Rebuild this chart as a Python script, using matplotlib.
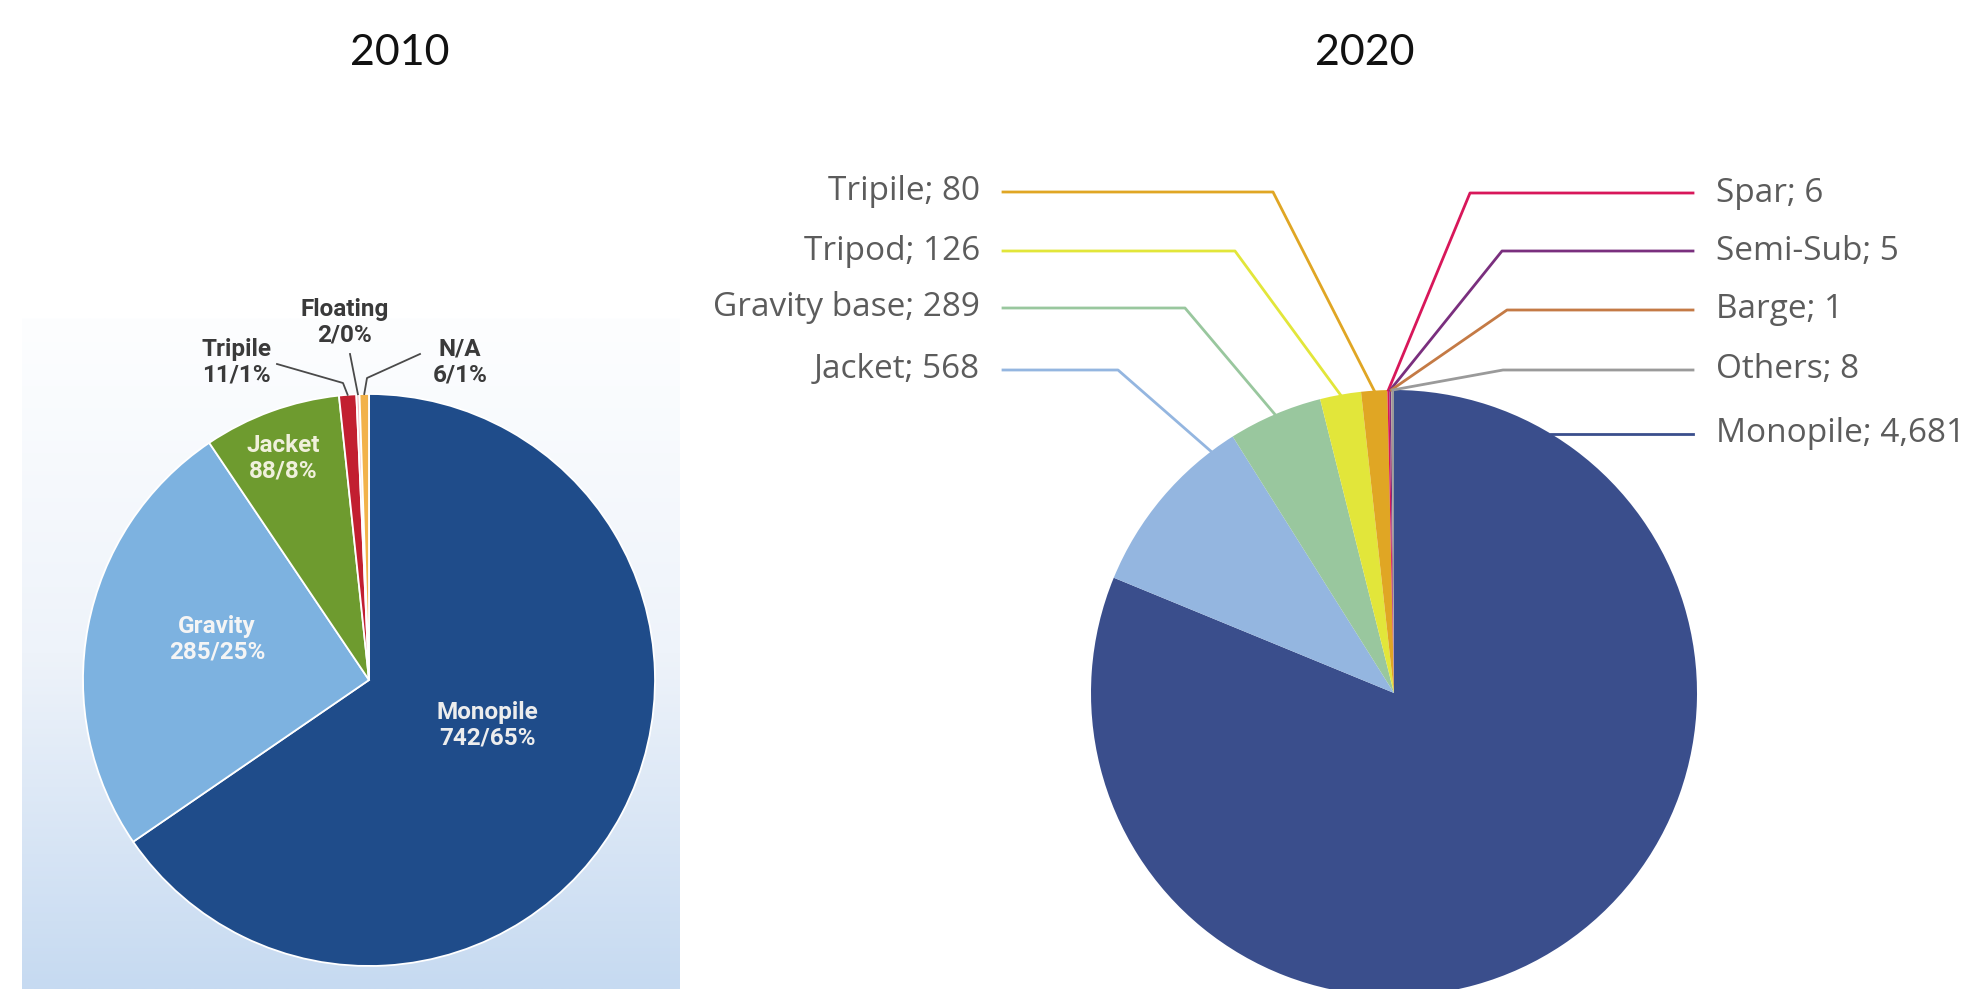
import numpy as np
import matplotlib
matplotlib.use("Agg")
import matplotlib.pyplot as plt
from matplotlib.colors import LinearSegmentedColormap

# ---------------- data ----------------
years = ["2010", "2020"]

cats_2010 = ["Monopile", "Gravity", "Jacket", "Tripile", "Floating", "N/A"]
vals_2010 = [742, 285, 88, 11, 2, 6]
pcts_2010 = [65, 25, 8, 1, 0, 1]

cats_2020 = ["Monopile", "Jacket", "Gravity base", "Tripod", "Tripile",
             "Spar", "Semi-Sub", "Barge", "Others"]
vals_2020 = [4681, 568, 289, 126, 80, 6, 5, 1, 8]

# ---------------- style / layout ----------------
colors_2010 = ["#1F4C8A", "#7DB2E0", "#6E9B2F", "#C21F30", "#F3C3C6", "#F2B24A"]
colors_2020 = ["#3A4E8C", "#94B6E0", "#99C79E", "#E2E63A", "#E0A624",
               "#D8175A", "#7A2F7E", "#C47A45", "#9A9A9A"]

W, H, DPI = 1972, 989, 100
Y = lambda y: H - y  # pixel rows measured from the top

C1, R1 = (369, 680), 286
C2, R2 = (1394, 693), 303

inner_pos_2010 = {"Monopile": (487, 725), "Gravity": (217, 639), "Jacket": (283, 458)}
inner_col_2010 = {"Monopile": "#EDEDED", "Gravity": "#F5F5F5", "Jacket": "#F0F0DC"}
outer_pos_2010 = {"Tripile": (236, 362), "Floating": (345, 322), "N/A": (460, 362)}
outer_path_2010 = {"Tripile": [(277, 364), (343, 383)],
                   "Floating": [(350, 354)],
                   "N/A": [(420, 354), (367, 378)]}

left_side = ["Tripile", "Tripod", "Gravity base", "Jacket"]
label_y_2020 = {"Tripile": 192, "Tripod": 251, "Gravity base": 308, "Jacket": 370,
                "Spar": 193, "Semi-Sub": 251, "Barge": 310, "Others": 370,
                "Monopile": 434}
bend_x_2020 = {"Tripile": 1273, "Tripod": 1235, "Gravity base": 1185, "Jacket": 1118,
               "Spar": 1470, "Semi-Sub": 1502, "Barge": 1507, "Others": 1503}
attach_frac = {"Jacket": 0.14}
LEFT_LINE_X, LEFT_TEXT_X = 1003, 980
RIGHT_LINE_X, RIGHT_TEXT_X = 1693, 1716

LBL_FONT = dict(fontsize=17.5, fontweight="bold", family="Roboto", linespacing=1.12)
R_FONT = dict(fontsize=24, color="#5C5C5C", family="Open Sans")

fig = plt.figure(figsize=(W / DPI, H / DPI), dpi=DPI)
ax = fig.add_axes([0, 0, 1, 1])

# gradient background behind the 2010 pie
grad = np.linspace(0, 1, 256).reshape(-1, 1)
bg = LinearSegmentedColormap.from_list("bg", ["#FDFEFF", "#EEF3FA", "#C6DAF1"])
ax.imshow(grad, extent=[22, 680, Y(989), Y(318)], cmap=bg, aspect="auto",
          origin="upper", zorder=0, interpolation="bilinear")

# ---------------- 2010 pie ----------------
w1, _ = ax.pie(vals_2010, colors=colors_2010, startangle=90, counterclock=False,
               center=(C1[0], Y(C1[1])), radius=R1, frame=True,
               wedgeprops=dict(edgecolor="white", linewidth=1.3))
for w in w1:
    w.set_zorder(2)

def edge_point(wedge, center, r, frac=0.5):
    ang = np.deg2rad(wedge.theta1 + frac * (wedge.theta2 - wedge.theta1))
    return center[0] + r * np.cos(ang), Y(center[1]) + r * np.sin(ang)

for cat, v, p, w in zip(cats_2010, vals_2010, pcts_2010, w1):
    txt = f"{cat}\n{v}/{p}%"
    if cat in inner_pos_2010:
        x, y = inner_pos_2010[cat]
        ax.text(x, Y(y), txt, ha="center", va="center",
                color=inner_col_2010[cat], zorder=5, **LBL_FONT)
    else:
        x, y = outer_pos_2010[cat]
        ax.text(x, Y(y), txt, ha="center", va="center",
                color="#3A3A3A", zorder=5, **LBL_FONT)
        ex, ey = edge_point(w, C1, R1)
        pts = [(px, Y(py)) for px, py in outer_path_2010[cat]] + [(ex, ey)]
        xs, ys = zip(*pts)
        ax.plot(xs, ys, color="#4A4A4A", lw=1.3, zorder=4)

# ---------------- 2020 pie ----------------
w2, _ = ax.pie(vals_2020, colors=colors_2020, startangle=90, counterclock=False,
               center=(C2[0], Y(C2[1])), radius=R2, frame=True,
               wedgeprops=dict(linewidth=0))
for w in w2:
    w.set_zorder(2)

for cat, v, col, w in zip(cats_2020, vals_2020, colors_2020, w2):
    label = f"{cat}; {v:,}"
    ly = Y(label_y_2020[cat])
    if cat == "Monopile":
        dy = ly - Y(C2[1])
        sx = C2[0] + np.sqrt(R2 ** 2 - dy ** 2)
        ax.plot([sx, RIGHT_LINE_X], [ly, ly], color=col, lw=2, zorder=4)
        ax.text(RIGHT_TEXT_X, ly, label, ha="left", va="center", zorder=5, **R_FONT)
        continue
    ex, ey = edge_point(w, C2, R2, attach_frac.get(cat, 0.5))
    bx = bend_x_2020[cat]
    if cat in left_side:
        ax.plot([LEFT_LINE_X, bx, ex], [ly, ly, ey], color=col, lw=2, zorder=4)
        ax.text(LEFT_TEXT_X, ly, label, ha="right", va="center", zorder=5, **R_FONT)
    else:
        ax.plot([RIGHT_LINE_X, bx, ex], [ly, ly, ey], color=col, lw=2, zorder=4)
        ax.text(RIGHT_TEXT_X, ly, label, ha="left", va="center", zorder=5, **R_FONT)

# ---------------- titles ----------------
ax.text(400, Y(53), years[0], ha="center", va="center", fontsize=31,
        color="#111111", family="Lato")
ax.text(1365, Y(53), years[1], ha="center", va="center", fontsize=31,
        color="#111111", family="Lato")

ax.set_xlim(0, W)
ax.set_ylim(0, H)
ax.axis("off")
fig.savefig("out.png", dpi=DPI, facecolor="white")
